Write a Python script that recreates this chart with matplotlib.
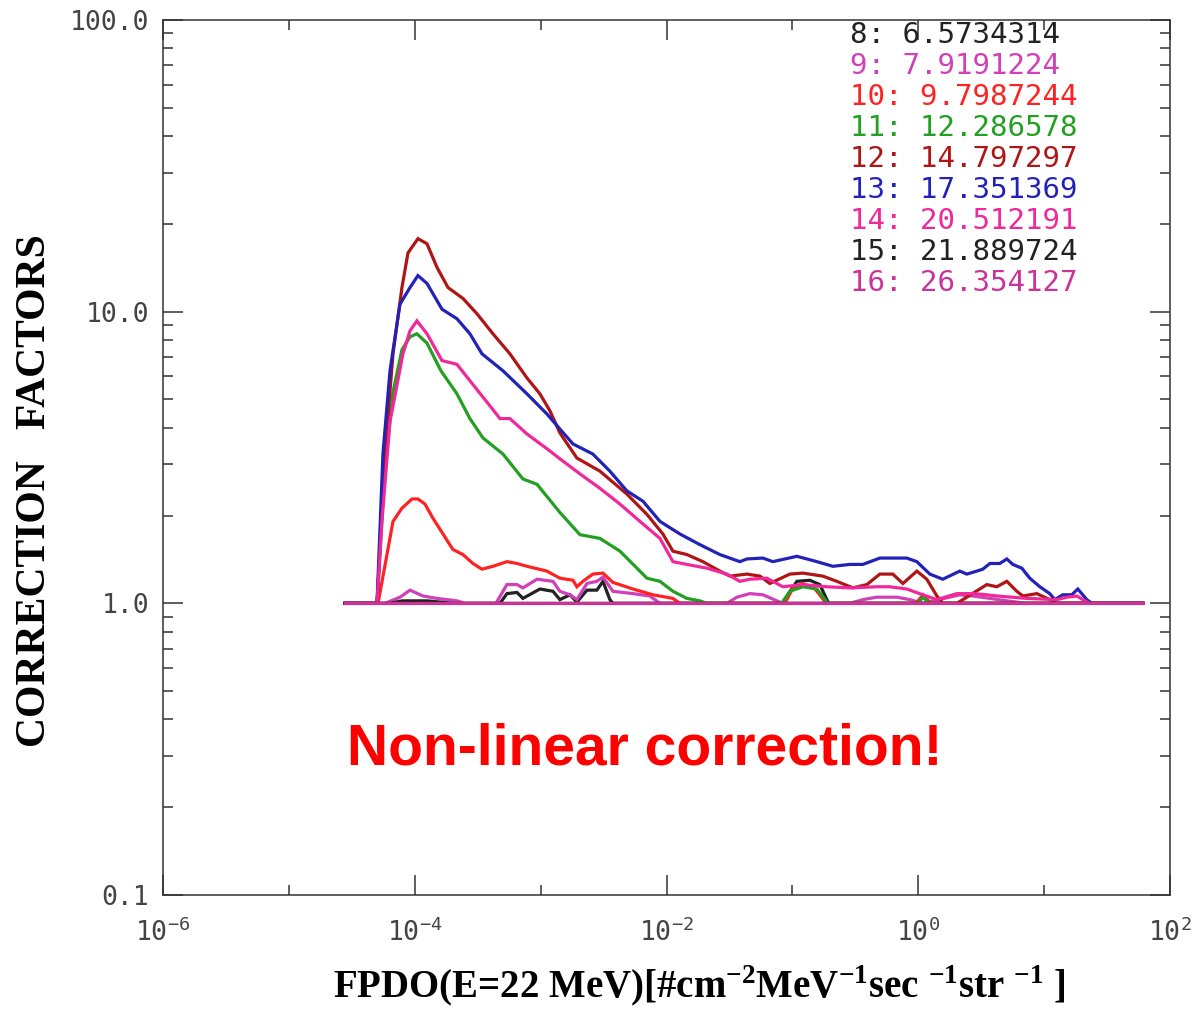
#!/usr/bin/env python3

import numpy as np
import matplotlib
matplotlib.use("Agg")
import matplotlib.pyplot as plt
from matplotlib.ticker import FixedLocator, FuncFormatter, NullFormatter

# legend entries: channel number, value, colour
channels = [8, 9, 10, 11, 12, 13, 14, 15, 16]
channel_values = ["6.5734314", "7.9191224", "9.7987244", "12.286578", "14.797297",
                  "17.351369", "20.512191", "21.889724", "26.354127"]
channel_colors = ["#222222", "#d040b8", "#ff2222", "#22a022", "#b01515",
                  "#2222b8", "#f0289a", "#222222", "#cc3399"]

# log10 of FPDO and correction factor
logx_8 = [-4.554, -3.323, -3.268, -3.188, -3.141, -3.006, -2.902, -2.847, -2.767, -2.712,
          -2.632, -2.553, -2.505, -2.450, -2.426, -1.083, -0.964, -0.861, -0.782, -0.726,
          -0.710, 1.784]
cf_8 = [1.0, 1.0, 1.08, 1.09, 1.04, 1.12, 1.10, 1.03, 1.07, 1.01,
        1.11, 1.11, 1.19, 1.03, 1.0, 1.0, 1.19, 1.20, 1.16, 1.03,
        1.0, 1.0]

logx_9 = [-4.554, -4.237, -4.117, -4.038, -3.935, -3.824, -3.665, -3.601, -3.355, -3.268,
          -3.188, -3.141, -3.029, -2.902, -2.847, -2.767, -2.712, -2.632, -2.553, -2.505,
          -2.426, -2.267, -2.132, -2.052, -1.520, -1.441, -1.338, -1.234, -1.123, -1.075,
          -0.543, -0.440, -0.329, -0.170, -0.067, 0.036, 0.330, 0.434, 0.569, 0.704,
          0.862, 1.784]
cf_9 = [1.0, 1.0, 1.05, 1.11, 1.06, 1.04, 1.02, 1.0, 1.0, 1.16,
        1.16, 1.13, 1.21, 1.19, 1.10, 1.07, 1.03, 1.17, 1.19, 1.23,
        1.10, 1.08, 1.06, 1.0, 1.0, 1.05, 1.08, 1.07, 1.02, 1.0,
        1.0, 1.03, 1.05, 1.05, 1.03, 1.0, 1.07, 1.06, 1.04, 1.02,
        1.0, 1.0]

logx_10 = [-4.554, -4.292, -4.221, -4.173, -4.102, -4.022, -3.975, -3.919, -3.856, -3.776,
           -3.697, -3.617, -3.538, -3.466, -3.379, -3.268, -3.188, -3.109, -2.950, -2.847,
           -2.743, -2.712, -2.664, -2.585, -2.505, -2.426, -2.267, -2.108, -1.949, -1.894,
           -1.060, -1.000, -0.920, -0.820, -0.730, -0.020, 0.040, 0.100, 1.784]
cf_10 = [1.0, 1.0, 1.47, 1.91, 2.12, 2.28, 2.28, 2.19, 1.96, 1.73,
         1.53, 1.47, 1.37, 1.31, 1.34, 1.39, 1.37, 1.34, 1.29, 1.22,
         1.20, 1.14, 1.19, 1.26, 1.27, 1.18, 1.12, 1.07, 1.04, 1.0,
         1.0, 1.12, 1.17, 1.12, 1.0, 1.0, 1.07, 1.0, 1.0]

logx_11 = [-4.554, -4.300, -4.237, -4.173, -4.102, -4.038, -3.983, -3.903, -3.792, -3.665,
           -3.562, -3.458, -3.299, -3.141, -3.029, -2.847, -2.688, -2.529, -2.370, -2.235,
           -2.156, -2.052, -1.949, -1.838, -1.735, -1.679, -1.083, -1.020, -0.917, -0.805,
           -0.718, 0.000, 0.036, 0.092, 1.784]
cf_11 = [1.0, 1.0, 2.9, 5.3, 7.4, 8.2, 8.4, 7.8, 6.27, 5.23,
         4.3, 3.69, 3.25, 2.67, 2.56, 2.05, 1.72, 1.67, 1.51, 1.32,
         1.22, 1.19, 1.10, 1.04, 1.02, 1.0, 1.0, 1.10, 1.14, 1.12,
         1.0, 1.0, 1.05, 1.0, 1.0]

logx_12 = [-4.554, -4.300, -4.237, -4.173, -4.102, -4.054, -3.975, -3.903, -3.824, -3.736,
           -3.617, -3.506, -3.379, -3.244, -3.109, -3.006, -2.926, -2.847, -2.712, -2.529,
           -2.315, -2.156, -2.029, -1.949, -1.838, -1.711, -1.576, -1.496, -1.361, -1.258,
           -1.179, -1.020, -0.917, -0.758, -0.647, -0.519, -0.408, -0.305, -0.202, -0.122,
           -0.011, 0.068, 0.148, 0.195, 0.307, 0.545, 0.624, 0.704, 0.783, 0.831,
           0.942, 1.045, 1.101, 1.784]
cf_12 = [1.0, 1.0, 3.25, 7.17, 12.1, 15.9, 17.8, 17.1, 14.2, 12.1,
         11.1, 9.84, 8.40, 7.17, 5.93, 5.23, 4.57, 3.84, 3.15, 2.84,
         2.37, 2.02, 1.73, 1.51, 1.47, 1.39, 1.29, 1.24, 1.26, 1.24,
         1.17, 1.26, 1.27, 1.24, 1.19, 1.13, 1.16, 1.26, 1.26, 1.17,
         1.29, 1.21, 1.06, 1.0, 1.0, 1.16, 1.14, 1.19, 1.10, 1.06,
         1.08, 1.03, 1.0, 1.0]

logx_13 = [-4.554, -4.300, -4.253, -4.197, -4.118, -4.038, -3.975, -3.903, -3.784, -3.665,
           -3.562, -3.466, -3.299, -3.109, -2.950, -2.847, -2.743, -2.585, -2.450, -2.315,
           -2.187, -2.052, -1.894, -1.735, -1.576, -1.417, -1.361, -1.234, -1.155, -0.964,
           -0.805, -0.678, -0.543, -0.440, -0.305, -0.091, -0.011, 0.092, 0.195, 0.330,
           0.386, 0.465, 0.513, 0.569, 0.648, 0.704, 0.751, 0.823, 0.886, 0.966,
           1.045, 1.085, 1.148, 1.220, 1.268, 1.339, 1.379, 1.784]
cf_13 = [1.0, 1.0, 3.25, 6.27, 10.6, 12.1, 13.3, 12.5, 10.2, 9.46,
         8.40, 7.17, 6.27, 5.23, 4.46, 3.96, 3.52, 3.25, 2.84, 2.43,
         2.24, 1.91, 1.73, 1.59, 1.47, 1.39, 1.42, 1.43, 1.39, 1.45,
         1.39, 1.34, 1.36, 1.36, 1.43, 1.43, 1.39, 1.26, 1.21, 1.29,
         1.26, 1.29, 1.31, 1.37, 1.37, 1.42, 1.36, 1.32, 1.22, 1.14,
         1.08, 1.03, 1.07, 1.07, 1.12, 1.03, 1.0, 1.0]

logx_14 = [-4.554, -4.300, -4.261, -4.197, -4.094, -4.038, -3.983, -3.903, -3.784, -3.665,
           -3.562, -3.427, -3.323, -3.244, -3.109, -2.926, -2.847, -2.688, -2.529, -2.370,
           -2.211, -2.052, -1.949, -1.838, -1.679, -1.520, -1.417, -1.338, -1.203, -1.075,
           -0.917, -0.726, -0.543, -0.329, -0.226, -0.091, 0.036, 0.148, 0.307, 0.434,
           0.545, 0.624, 0.862, 1.101, 1.180, 1.260, 1.307, 1.363, 1.784]
cf_14 = [1.0, 1.0, 1.91, 4.2, 7.17, 8.6, 9.3, 8.40, 6.8, 6.6,
         5.8, 4.9, 4.3, 4.3, 3.81, 3.33, 3.13, 2.78, 2.48, 2.19,
         1.91, 1.67, 1.39, 1.36, 1.32, 1.26, 1.19, 1.21, 1.22, 1.14,
         1.16, 1.14, 1.13, 1.14, 1.14, 1.12, 1.07, 1.03, 1.08, 1.08,
         1.07, 1.06, 1.04, 1.03, 1.05, 1.06, 1.03, 1.0, 1.0]

logx_15 = [-4.554, -4.200, -4.100, -3.900, -3.700, 1.784]
cf_15 = [1.0, 1.0, 1.02, 1.02, 1.0, 1.0]

logx_16 = [-4.554, 1.784]
cf_16 = [1.0, 1.0]

# tick labels
y_ticks = [0.1, 1.0, 10.0, 100.0]
x_major = [1e-6, 1e-4, 1e-2, 1e0, 1e2]
x_minor = [1e-5, 1e-3, 1e-1, 1e1]

AXIS_COLOR = "#333333"


def x_label_fmt(v, pos):
    e = int(round(np.log10(v)))
    return r"$\mathregular{10^{%d}}$" % e


def main():
    plt.rcParams["font.family"] = ["DejaVu Sans Mono", "DejaVu Sans"]
    plt.rcParams["mathtext.fontset"] = "custom"
    plt.rcParams["mathtext.bf"] = "Liberation Serif:bold"
    plt.rcParams["mathtext.rm"] = "Liberation Serif:bold"

    fig = plt.figure(figsize=(11.98, 10.11), dpi=100)
    ax = fig.add_axes([0.1361, 0.1147, 0.8405, 0.8655])

    series = [(logx_8, cf_8), (logx_9, cf_9), (logx_10, cf_10), (logx_11, cf_11),
              (logx_12, cf_12), (logx_13, cf_13), (logx_14, cf_14), (logx_15, cf_15),
              (logx_16, cf_16)]
    for (lx, cf), col in zip(series, channel_colors):
        ax.plot(10.0 ** np.array(lx), cf, color=col, lw=2.3, solid_joinstyle="miter")

    ax.set_xscale("log")
    ax.set_yscale("log")
    ax.set_xlim(1e-6, 1e2)
    ax.set_ylim(0.1, 100.0)

    # ticks like the idl plot: inward, on all four sides
    ax.xaxis.set_major_locator(FixedLocator(x_major))
    ax.xaxis.set_minor_locator(FixedLocator(x_minor))
    ax.xaxis.set_major_formatter(FuncFormatter(x_label_fmt))
    ax.xaxis.set_minor_formatter(NullFormatter())
    ax.yaxis.set_major_locator(FixedLocator(y_ticks))
    minors = [m * 10.0 ** d for d in range(-1, 2) for m in range(2, 10)]
    ax.yaxis.set_minor_locator(FixedLocator(minors))
    ax.yaxis.set_major_formatter(FuncFormatter(lambda v, p: "%.1f" % v))
    ax.yaxis.set_minor_formatter(NullFormatter())
    ax.tick_params(which="both", direction="in", top=True, right=True,
                   width=1.1, color=AXIS_COLOR, labelcolor="#444444", labelsize=19)
    ax.tick_params(which="major", length=14.4)
    ax.tick_params(which="minor", length=7.2)
    ax.tick_params(axis="y", pad=10)
    ax.tick_params(axis="x", pad=17)
    for s in ax.spines.values():
        s.set_color(AXIS_COLOR)
        s.set_linewidth(1.1)

    # channel legend
    for i, (ch, val, col) in enumerate(zip(channels, channel_values, channel_colors)):
        ax.text(0.682, 0.983 - i * 0.0354, "%d: %s" % (ch, val), color=col,
                fontsize=21, family="DejaVu Sans Mono", ha="left", va="center",
                transform=ax.transAxes)

    ax.text(0.478, 0.166, "Non-linear correction!", color="#ff0000", fontsize=41,
            family="Liberation Sans", weight="bold", ha="center", va="center",
            transform=ax.transAxes)

    fig.text(0.029, 0.515, "CORRECTION   FACTORS", rotation=90, ha="center", va="center",
             fontsize=30, family="Liberation Serif", weight="bold", color="black")
    fig.text(0.584, 0.012,
             r"FPDO(E=22 MeV)[#cm$^{\mathbf{-2}}$MeV$^{\mathbf{-1}}$sec $^{\mathbf{-1}}$str $^{\mathbf{-1}}$ ]",
             ha="center", va="baseline", fontsize=28, family="Liberation Serif",
             weight="bold", color="black", math_fontfamily="custom")

    fig.savefig("out.png", dpi=100)


if __name__ == "__main__":
    main()
